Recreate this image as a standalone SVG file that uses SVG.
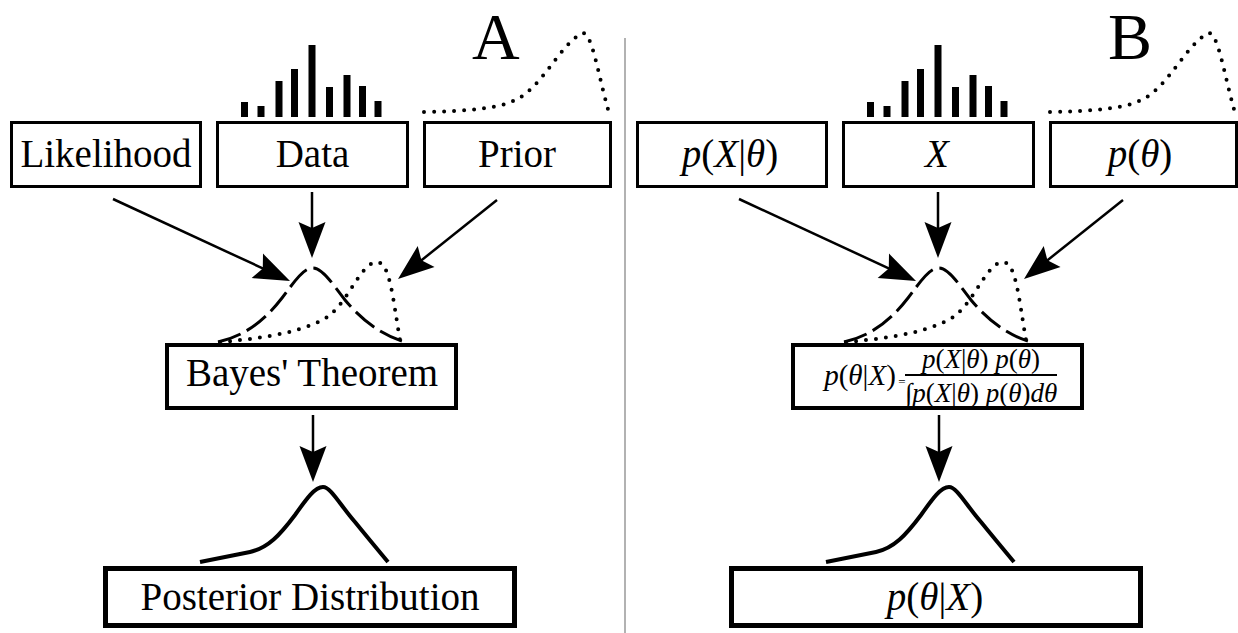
<svg xmlns="http://www.w3.org/2000/svg" width="1238" height="633" viewBox="0 0 1238 633">
<defs>
<style>
.box{fill:#fff;stroke:#000;stroke-width:3}
.mid{stroke-width:4}
.big{stroke-width:5}
.lbl{font-family:"Liberation Serif","Times New Roman",serif;font-size:39px;text-anchor:middle;fill:#000}
.panel{font-family:"Liberation Serif","Times New Roman",serif;font-size:66px;fill:#000}
.i{font-style:italic}
.bar{fill:#000}
.dot{fill:none;stroke:#000;stroke-width:4;stroke-linecap:round;stroke-dasharray:0 10}
.dash{fill:none;stroke:#000;stroke-width:3;stroke-dasharray:24 7}
.post{fill:none;stroke:#000;stroke-width:4;stroke-linejoin:round}
.arr{stroke:#000;stroke-width:2.5;fill:none;marker-end:url(#ah)}
</style>
<marker id="ah" markerUnits="userSpaceOnUse" orient="auto" overflow="visible" refX="0" refY="0" markerWidth="40" markerHeight="30"><path d="M20,0 L-16,-13.5 L-10,0 L-16,13.5 Z" fill="#000"/></marker>
<g id="hist">
<rect class="bar" x="241" y="102" width="7" height="15"/>
<rect class="bar" x="257.5" y="106" width="7" height="11"/>
<rect class="bar" x="275.5" y="81" width="7" height="36"/>
<rect class="bar" x="291" y="69" width="7" height="48"/>
<rect class="bar" x="308.5" y="45" width="7" height="72"/>
<rect class="bar" x="326" y="87" width="7" height="30"/>
<rect class="bar" x="343.5" y="75" width="7" height="42"/>
<rect class="bar" x="359" y="86" width="7" height="31"/>
<rect class="bar" x="374.5" y="101" width="7" height="16"/>
</g>
<path id="priorTop" class="dot" d="M424,112 C470,111 500,108 515,100 C540,90 560,45 582,33 C592,32 597,70 609,113"/>
<g id="mix">
<path class="dash" d="M218,342 C245,336 265,320 282,298 C295,281 303,268 313,268 C323,268 333,285 345,300 C360,318 380,335 405,342"/>
<path class="dot" d="M220,342 C270,338 310,330 330,315 C350,298 362,262 377,262 C390,262 393,300 400,340"/>
</g>
<path id="postCurve" class="post" d="M200,562 L250,552 C268,548 280,535 295,515 C307,498 315,487 323,487 C331,487 340,505 355,522 C368,538 378,550 388,562"/>
</defs>

<rect width="1238" height="633" fill="#fff"/>
<line x1="625" y1="38" x2="625" y2="633" stroke="#999" stroke-width="1.5"/>

<text class="panel" x="472" y="59">A</text>
<text class="panel" x="1108" y="59">B</text>

<g id="decorA">
<use href="#hist"/>
<use href="#priorTop"/>
<use href="#mix"/>
<use href="#postCurve"/>
</g>
<g id="decorB" transform="translate(626,0)">
<use href="#hist"/>
<use href="#priorTop"/>
<use href="#mix"/>
<use href="#postCurve"/>
</g>

<g id="likelihoodA"><rect class="box" x="11.5" y="122.5" width="189" height="64"/><text class="lbl" x="106" y="167">Likelihood</text></g>
<g id="dataA"><rect class="box" x="217.5" y="122.5" width="190" height="64"/><text class="lbl" x="312.5" y="167">Data</text></g>
<g id="priorA"><rect class="box" x="424.5" y="122.5" width="186" height="64"/><text class="lbl" x="517" y="167">Prior</text></g>
<g id="bayesA"><rect class="box mid" x="167" y="345" width="289" height="63"/><text class="lbl" x="312" y="386">Bayes' Theorem</text></g>
<g id="posteriorA"><rect class="box big" x="105.5" y="568.5" width="409" height="57"/><text class="lbl" x="310" y="610">Posterior Distribution</text></g>

<g id="likelihoodB"><rect class="box" x="637.5" y="122.5" width="189" height="64"/><text class="lbl" x="730" y="167"><tspan class="i">p</tspan>(<tspan class="i">X</tspan>|<tspan class="i">θ</tspan>)</text></g>
<g id="dataB"><rect class="box" x="843.5" y="122.5" width="190" height="64"/><text class="lbl i" x="937" y="167">X</text></g>
<g id="priorB"><rect class="box" x="1050.5" y="122.5" width="186" height="64"/><text class="lbl" x="1140" y="167"><tspan class="i">p</tspan>(<tspan class="i">θ</tspan>)</text></g>
<g id="bayesB"><rect class="box mid" x="793" y="345" width="289" height="63"/>
<text class="lbl" style="font-size:29px" x="860" y="385"><tspan class="i">p</tspan>(<tspan class="i">θ</tspan>|<tspan class="i">X</tspan>)</text>
<text class="lbl" style="font-size:13px" x="902" y="386">=</text>
<text class="lbl" style="font-size:27px" x="981" y="368"><tspan class="i">p</tspan>(<tspan class="i">X</tspan>|<tspan class="i">θ</tspan>) <tspan class="i">p</tspan>(<tspan class="i">θ</tspan>)</text>
<line x1="905" y1="375" x2="1057" y2="375" stroke="#000" stroke-width="2"/>
<text class="lbl" style="font-size:27px" x="981" y="402">∫<tspan class="i">p</tspan>(<tspan class="i">X</tspan>|<tspan class="i">θ</tspan>) <tspan class="i">p</tspan>(<tspan class="i">θ</tspan>)<tspan class="i">dθ</tspan></text>
</g>
<g id="posteriorB"><rect class="box big" x="731.5" y="568.5" width="409" height="57"/><text class="lbl" x="935" y="610"><tspan class="i">p</tspan>(<tspan class="i">θ</tspan>|<tspan class="i">X</tspan>)</text></g>

<g id="connectors">
<line class="arr" x1="113" y1="199" x2="271.85" y2="272.59"/>
<line class="arr" x1="312" y1="192" x2="312" y2="238"/>
<line class="arr" x1="497" y1="200" x2="413.63" y2="266.53"/>
<line class="arr" x1="313" y1="415" x2="313" y2="462"/>
<line class="arr" x1="739" y1="199" x2="897.85" y2="272.59"/>
<line class="arr" x1="938" y1="192" x2="938" y2="238"/>
<line class="arr" x1="1123" y1="200" x2="1039.63" y2="266.53"/>
<line class="arr" x1="939" y1="415" x2="939" y2="462"/>
</g>
</svg>
